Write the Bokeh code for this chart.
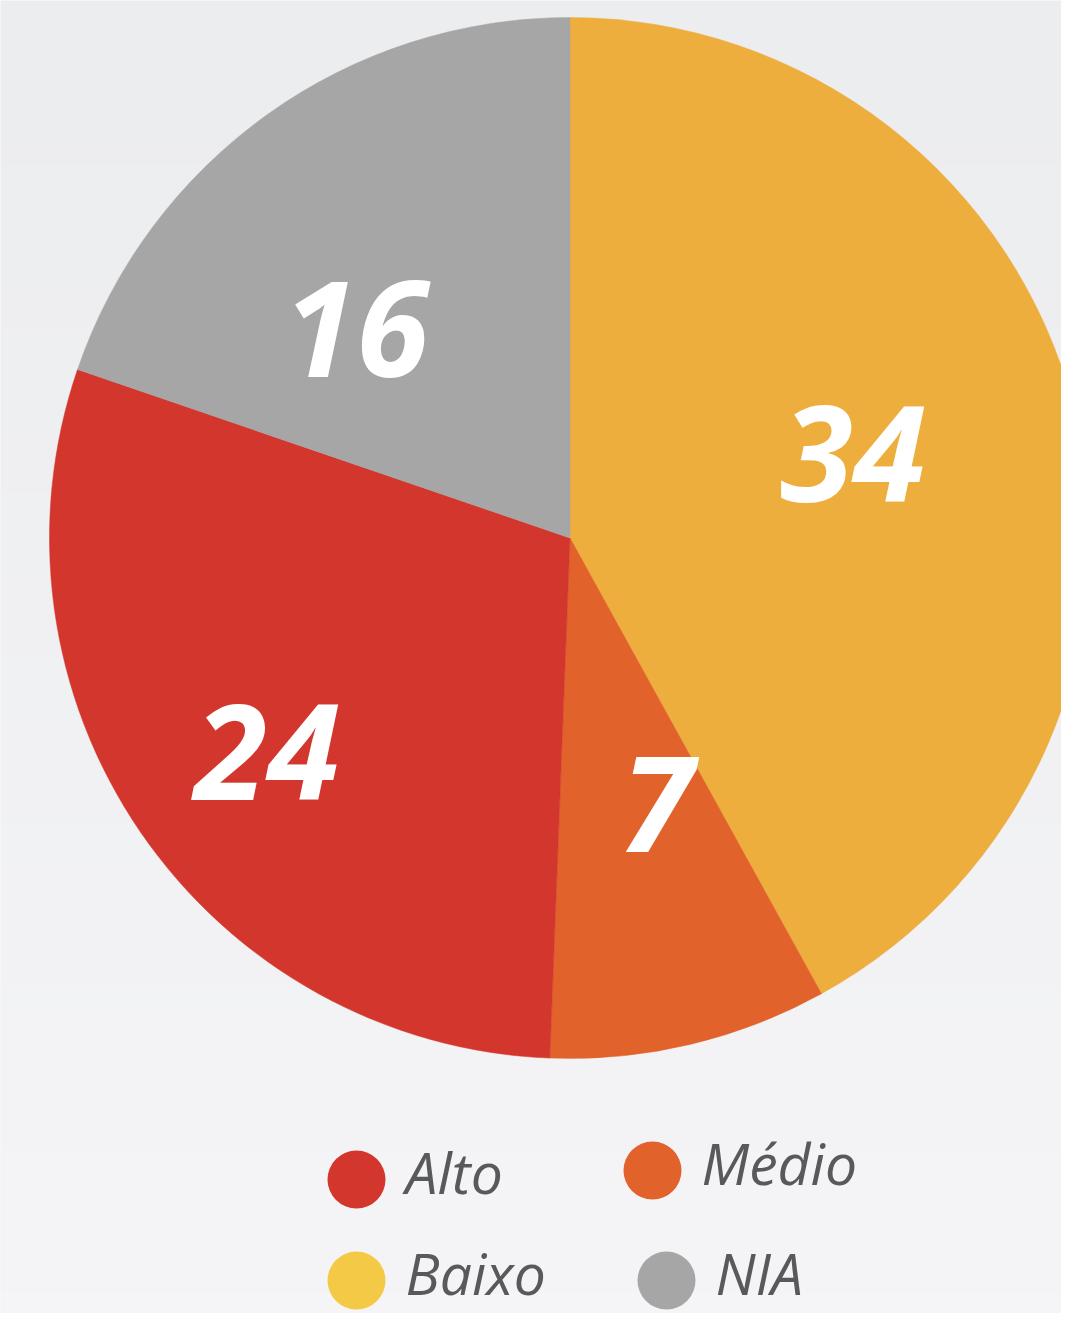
import numpy as np
from bokeh.plotting import figure
from bokeh.models import Range1d, ColumnDataSource
from bokeh.core.properties import value
from bokeh.embed import file_html
from bokeh.resources import INLINE

# ---- data ----
slice_labels = ["Baixo", "Médio", "Alto", "NIA"]
slice_values = [34, 7, 24, 16]
slice_colors = ["#EDAE3E", "#E2622B", "#D2362C", "#A6A6A6"]

legend_labels = ["Alto", "Médio", "Baixo", "NIA"]
legend_colors = ["#D2362C", "#E2622B", "#F4C945", "#A6A6A6"]

# ---- layout (picture pixel coordinates, y downward) ----
W, H = 1061, 1313
CX, CY, R = 569.5, 537.5, 520.5
label_radius_frac = [0.567, 0.538, 0.713, 0.5735]
label_angle_shift_deg = [-2.0, -4.8, -0.8, -10.2]
legend_x = [356, 652, 356, 666]
legend_y = [1179, 1170, 1280, 1280]
legend_r = 29
legend_text_dx = 49
legend_text_dy = -8

p = figure(width=W, height=H, output_backend="svg", toolbar_location=None,
           x_range=Range1d(0, W), y_range=Range1d(-H, 0),
           min_border=0)
p.axis.visible = False
p.grid.visible = False
p.outline_line_color = None
p.background_fill_color = "#F1F2F4"
p.border_fill_color = "#F1F2F4"

# background gradient (decoration)
n = 64
t = np.linspace(0, 1, n)
top = np.array([236, 237, 239]); bot = np.array([245, 245, 247])
img = np.zeros((n, 1), dtype=np.uint32)
view = img.view(dtype=np.uint8).reshape((n, 1, 4))
for i in range(n):
    c = top * t[i] + bot * (1 - t[i])  # row 0 is bottom
    view[i, 0, 0:3] = c.astype(np.uint8)
    view[i, 0, 3] = 255
p.image_rgba(image=[img], x=0, y=-H, dw=W, dh=H)

# ---- pie ----
vals = np.array(slice_values, dtype=float)
frac = vals / vals.sum()
cum = np.concatenate([[0], np.cumsum(frac)])
start = np.pi / 2 - cum[:-1] * 2 * np.pi
end = np.pi / 2 - cum[1:] * 2 * np.pi
src = ColumnDataSource(dict(start=start, end=end, color=slice_colors,
                            label=slice_labels, value=slice_values))
p.wedge(x=CX, y=-CY, radius=R, start_angle="start", end_angle="end",
        direction="clock", fill_color="color", line_color="color",
        line_width=0.5, source=src)

mid_cw = (cum[:-1] + cum[1:]) / 2 * 360 + np.array(label_angle_shift_deg)
rr = np.array(label_radius_frac) * R
lx = CX + rr * np.sin(np.radians(mid_cw))
ly = -(CY - rr * np.cos(np.radians(mid_cw)))
p.text(x=lx, y=ly, text=[str(v) for v in slice_values],
       text_font=value("Open Sans"), text_font_style="bold italic",
       text_font_size="132px", text_color="white",
       text_align="center", text_baseline="middle")

# ---- legend ----
lgx = np.array(legend_x, dtype=float)
lgy = -np.array(legend_y, dtype=float)
p.circle(x=lgx, y=lgy, radius=legend_r, fill_color=legend_colors,
         line_color=None)
p.text(x=lgx + legend_text_dx, y=lgy - legend_text_dy, text=legend_labels,
       text_font=value("Open Sans"), text_font_style="italic",
       text_font_size="57px", text_color="#58595B",
       text_align="left", text_baseline="alphabetic")

open("out.html", "w").write(file_html(p, INLINE))
